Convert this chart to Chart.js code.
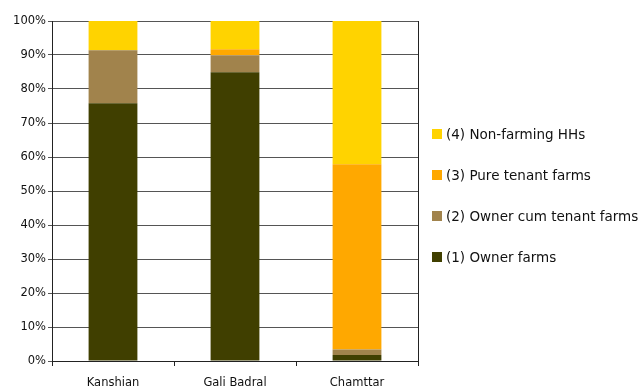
<!DOCTYPE html>
<html>
<head>
<meta charset="utf-8">
<script src="https://cdn.jsdelivr.net/npm/chart.js@4"></script>
<style>
  html, body { margin: 0; padding: 0; background: #fff; }
  #wrap { position: relative; width: 641px; height: 387px; }
  #legend { position: absolute; left: 432px; top: 113px; font-family: "DejaVu Sans", sans-serif; font-size: 13.5px; color: #111; }
  #legend .item { height: 41px; display: flex; align-items: center; white-space: nowrap; }
  #legend .box { width: 10px; height: 10px; margin-right: 4px; flex: none; }
</style>
</head>
<body>
<div id="wrap">
  <canvas id="myChart" width="641" height="387"></canvas>
  <div id="legend"></div>
</div>
<script>
const villages = ['Kanshian', 'Gali Badral', 'Chamttar'];

// share of households, in percent
const ownerFarms = [75.8, 84.9, 1.8];
const ownerCumTenant = [15.6, 5.0, 1.6];
const pureTenant = [0, 1.8, 54.5];
const nonFarming = [8.6, 8.3, 42.1];

const yTicks = [0, 10, 20, 30, 40, 50, 60, 70, 80, 90, 100];

const data = {
  labels: villages,
  datasets: [
    { label: '(1) Owner farms', data: ownerFarms, backgroundColor: 'rgb(64, 63, 0)' },
    { label: '(2) Owner cum tenant farms', data: ownerCumTenant, backgroundColor: 'rgb(161, 131, 76)' },
    { label: '(3) Pure tenant farms', data: pureTenant, backgroundColor: 'rgb(255, 168, 0)' },
    { label: '(4) Non-farming HHs', data: nonFarming, backgroundColor: 'rgb(255, 211, 0)' }
  ]
};

// right edge of the plot frame
const frameRight = {
  id: 'frameRight',
  afterDraw(chart) {
    const { ctx, chartArea } = chart;
    ctx.save();
    ctx.strokeStyle = '#222';
    ctx.lineWidth = 1;
    ctx.beginPath();
    ctx.moveTo(Math.round(chartArea.right) + 0.5, chartArea.top);
    ctx.lineTo(Math.round(chartArea.right) + 0.5, chartArea.bottom);
    ctx.stroke();
    ctx.restore();
  }
};

const tickFont = { family: 'DejaVu Sans', size: 11.5 };

const config = {
  type: 'bar',
  data,
  options: {
    responsive: false,
    animation: false,
    layout: { padding: { top: 21, right: 223, bottom: 0, left: 0 } },
    datasets: { bar: { categoryPercentage: 1, barPercentage: 0.4, borderWidth: 0 } },
    scales: {
      x: {
        stacked: true,
        afterFit: s => { s.height = 26; },
        grid: { drawOnChartArea: false, offset: true, tickLength: 5, color: '#222' },
        border: { color: '#222' },
        ticks: { padding: 10, color: '#111', font: tickFont }
      },
      y: {
        stacked: true,
        min: 0,
        max: 100,
        afterFit: s => { s.width = 52; },
        afterBuildTicks: s => { s.ticks = yTicks.map(v => ({ value: v })); },
        grid: { color: '#555', tickLength: 4 },
        border: { color: '#222' },
        ticks: { padding: 2, color: '#111', font: tickFont, callback: v => v + '%' }
      }
    },
    plugins: {
      legend: { display: false },
      tooltip: { enabled: false }
    }
  },
  plugins: [frameRight]
};

const myChart = new Chart(document.getElementById('myChart'), config);

// legend, top item is the last series
const legendEl = document.getElementById('legend');
myChart.data.datasets.slice().reverse().forEach(ds => {
  const item = document.createElement('div');
  item.className = 'item';
  const box = document.createElement('span');
  box.className = 'box';
  box.style.background = ds.backgroundColor;
  const txt = document.createElement('span');
  txt.textContent = ds.label;
  item.appendChild(box);
  item.appendChild(txt);
  legendEl.appendChild(item);
});
</script>
</body>
</html>
